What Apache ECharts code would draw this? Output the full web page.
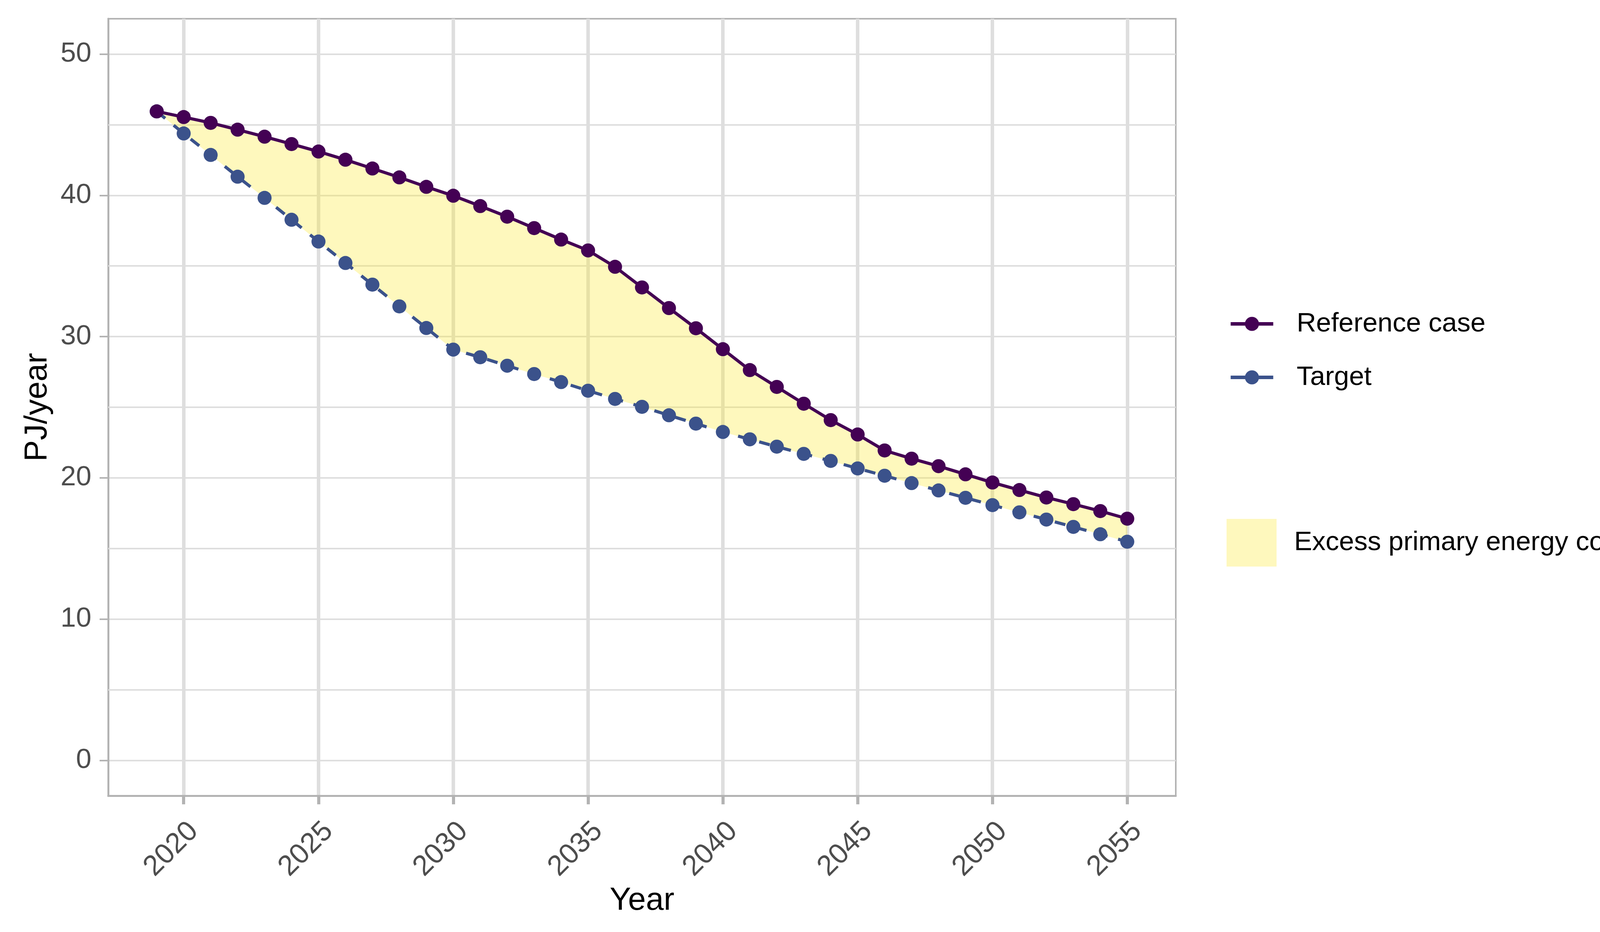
<!DOCTYPE html>
<html><head><meta charset="utf-8">
<script src="https://cdn.jsdelivr.net/npm/echarts@6/dist/echarts.min.js"></script>
<style>html,body{margin:0;padding:0;background:#fff}#c{width:4455px;height:2387px}</style>
</head><body><div id="c"></div>
<script>
const years = [2019,2020,2021,2022,2023,2024,2025,2026,2027,2028,2029,2030,2031,2032,2033,2034,2035,2036,2037,2038,2039,2040,2041,2042,2043,2044,2045,2046,2047,2048,2049,2050,2051,2052,2053,2054,2055];
const referenceCase = [45.94,45.54,45.13,44.65,44.15,43.63,43.10,42.52,41.90,41.27,40.60,39.97,39.24,38.49,37.68,36.87,36.10,34.94,33.48,32.02,30.59,29.11,27.63,26.44,25.25,24.09,23.07,21.94,21.36,20.83,20.25,19.67,19.14,18.61,18.14,17.65,17.11];
const target = [45.94,44.38,42.86,41.32,39.82,38.27,36.73,35.21,33.68,32.14,30.61,29.08,28.54,27.94,27.35,26.78,26.17,25.59,25.03,24.43,23.84,23.25,22.73,22.21,21.70,21.20,20.67,20.15,19.63,19.11,18.59,18.07,17.56,17.05,16.53,16.01,15.48];
const xTicks = [2020,2025,2030,2035,2040,2045,2050,2055];
const yTicks = [0,10,20,30,40,50];
const yMinorTicks = [5,15,25,35,45];
const seriesNames = ['Reference case','Target'];
const bandName = 'Excess primary energy consumption';

const FONT = '"Liberation Sans", Arial, Helvetica, sans-serif';
const C_REF = '#440154', C_TGT = '#3B528B', C_FILL = 'rgba(253,231,37,0.3)';

const refData = years.map((y,i)=>[y, referenceCase[i]]);
const tgtData = years.map((y,i)=>[y, target[i]]);
const bandData = years.map((y,i)=>[y, referenceCase[i], target[i]]);

const chart = echarts.init(document.getElementById('c'), null, {renderer:'canvas', devicePixelRatio:1});
chart.setOption({
  animation:false,
  backgroundColor:'#ffffff',
  textStyle:{fontFamily:FONT},
  grid:{left:277, right:1445, top:48, bottom:349, containLabel:false, show:true, borderColor:'#b3b3b3', borderWidth:4, backgroundColor:'#ffffff'},
  xAxis:{
    type:'value', min:2017.2, max:2056.8,
    name:'Year', nameLocation:'middle', nameGap:228,
    nameTextStyle:{fontSize:82, color:'#000', fontFamily:FONT},
    axisLine:{show:true, onZero:false, lineStyle:{color:'#b3b3b3', width:5}},
    axisTick:{show:true, length:22, customValues:xTicks, lineStyle:{color:'#b3b3b3', width:8}},
    axisLabel:{customValues:xTicks, rotate:45, margin:54, verticalAlign:'top', fontSize:73, color:'#4d4d4d', fontFamily:FONT, formatter:v=>String(v)},
    splitLine:{show:true, lineStyle:{color:'#dedede', width:9}}
  },
  yAxis:{
    type:'value', min:-2.5, max:52.5,
    name:'PJ/year', nameLocation:'middle', nameGap:140,
    nameTextStyle:{fontSize:82, color:'#000', fontFamily:FONT},
    axisLine:{show:true, onZero:false, lineStyle:{color:'#b3b3b3', width:5}},
    axisTick:{show:true, length:22, customValues:yTicks, lineStyle:{color:'#b3b3b3', width:4}},
    axisLabel:{customValues:yTicks, margin:43, fontSize:71, color:'#4d4d4d', fontFamily:FONT},
    splitLine:{show:true, lineStyle:{color:'#dedede', width:4}}
  },
  legend:[
    {
      orient:'vertical', left:3141, top:790, itemWidth:109, itemHeight:45, itemGap:68,
      data:[
        {name:seriesNames[0], lineStyle:{type:'solid', width:9, color:C_REF}},
        {name:seriesNames[1], lineStyle:{type:'solid', width:9, color:C_TGT}}
      ],
      textStyle:{fontSize:69, color:'#000', fontFamily:FONT, lineHeight:68, padding:[0,0,0,55]},
      selectedMode:false
    },
    {
      orient:'vertical', left:3135, top:1324, itemWidth:128, itemHeight:122,
      data:[{name:bandName, icon:'rect', itemStyle:{color:C_FILL}}],
      textStyle:{fontSize:69, color:'#000', fontFamily:FONT, lineHeight:68, padding:[0,0,0,40]},
      selectedMode:false
    }
  ],
  series:[
    {
      name:bandName, type:'custom', coordinateSystem:'cartesian2d',
      data:bandData, encode:{x:0, y:[1,2]}, silent:true, z:2,
      itemStyle:{color:C_FILL},
      renderItem:(params, api)=>{
        if (params.dataIndexInside !== 0) return null;
        const n = params.dataInsideLength;
        const upper = [], lower = [];
        for (let j = 0; j < n; j++) {
          upper.push(api.coord([api.value(0, j), api.value(1, j)]));
          lower.push(api.coord([api.value(0, j), api.value(2, j)]));
        }
        return {type:'polygon', shape:{points:upper.concat(lower.reverse())}, style:{fill:C_FILL}, silent:true};
      },
      markLine:{silent:true, z:1, symbol:['none','none'], label:{show:false}, animation:false,
        lineStyle:{color:'#dedede', width:4, type:'solid'},
        data: yMinorTicks.map(v=>({yAxis:v}))}
    },
    {
      name:seriesNames[1], type:'line', data:tgtData, symbol:'circle', symbolSize:36, showSymbol:true,
      lineStyle:{color:C_TGT, width:8, type:[28,28]}, itemStyle:{color:C_TGT, borderWidth:0}, z:3
    },
    {
      name:seriesNames[0], type:'line', data:refData, symbol:'circle', symbolSize:36, showSymbol:true,
      lineStyle:{color:C_REF, width:8, type:'solid'}, itemStyle:{color:C_REF, borderWidth:0}, z:4
    }
  ]
});
</script></body></html>
